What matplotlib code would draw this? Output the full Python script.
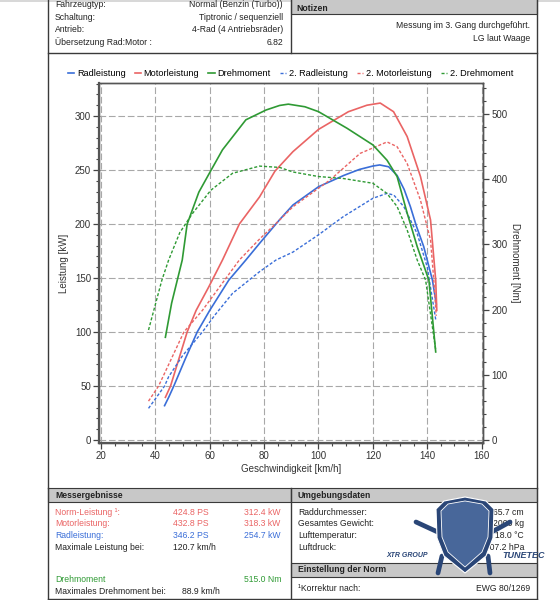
import matplotlib
matplotlib.use("Agg")
import matplotlib.pyplot as plt
from matplotlib.patches import Rectangle, Polygon
from matplotlib.lines import Line2D
from matplotlib.ticker import MultipleLocator

plt.rcParams['font.family'] = ['Liberation Sans', 'DejaVu Sans']

# ---------------- data ----------------
rad_v = [43.4, 45.0, 46.8, 51.0, 55.4, 60.0, 67.0, 73.3, 78.3, 85.7, 90.6, 100.0, 109.3, 115.0,
         120.0, 122.5, 125.8, 128.9, 131.5, 133.8, 136.0, 138.7, 141.9, 143.3]
rad_kw = [31.8, 40.0, 50.0, 75.0, 100.0, 120.0, 148.0, 166.7, 182.0, 204.0, 217.6, 234.5, 245.0, 250.5,
          253.7, 254.7, 253.0, 245.0, 232.0, 216.0, 198.0, 179.0, 148.0, 126.0]

mot_v = [43.7, 45.6, 51.7, 55.0, 59.7, 64.7, 70.9, 78.3, 84.0, 90.6, 100.0, 111.0, 117.8, 122.7,
         127.6, 132.6, 137.5, 141.2, 143.1, 143.5]
mot_kw = [39.5, 50.0, 100.0, 120.0, 142.0, 166.7, 200.0, 225.0, 249.0, 267.0, 287.6, 304.0, 310.0, 312.0,
          304.0, 281.0, 244.0, 203.7, 148.0, 120.0]

dreh_v = [43.7, 46.0, 49.9, 51.7, 56.0, 60.4, 64.7, 73.3, 80.7, 85.7, 88.9, 95.0, 100.0, 110.5,
          120.0, 125.2, 128.9, 132.6, 136.3, 140.6, 143.1]
dreh_nm = [157.5, 210.0, 276.0, 331.0, 380.0, 413.0, 445.0, 491.0, 506.0, 513.0, 515.0, 511.0, 503.5, 478.0,
           452.5, 429.0, 404.0, 348.0, 296.5, 245.0, 135.0]

rad2_v = [37.5, 43.4, 44.9, 50.0, 57.3, 62.0, 68.4, 78.3, 84.4, 90.6, 100.0, 109.1, 120.0, 125.2,
          127.7, 131.4, 136.3, 140.0, 143.2]
rad2_kw = [29.3, 50.0, 58.6, 78.0, 100.0, 116.0, 135.8, 155.8, 166.7, 174.0, 190.0, 206.8, 223.8, 228.4,
           226.8, 216.0, 191.0, 160.0, 110.0]

mot2_v = [37.5, 41.2, 44.0, 50.5, 57.3, 64.0, 70.9, 78.3, 85.7, 90.6, 104.2, 115.3, 125.2, 128.9,
          132.6, 137.5, 141.2, 142.4, 143.3]
mot2_kw = [36.0, 50.0, 65.0, 100.0, 120.0, 143.0, 166.7, 186.0, 203.7, 216.0, 240.7, 265.4, 276.0, 271.6,
           256.0, 222.0, 185.0, 148.0, 115.0]

dreh2_v = [37.5, 42.4, 44.9, 49.0, 53.6, 60.4, 68.4, 78.3, 85.7, 90.6, 100.0, 109.1, 120.0, 125.2,
           128.9, 132.6, 136.3, 139.4, 143.1]
dreh2_nm = [168.7, 245.0, 276.0, 318.0, 347.0, 383.0, 409.0, 420.0, 418.0, 411.0, 404.0, 401.0, 393.7, 378.0,
            358.0, 322.0, 276.0, 245.0, 138.0]

series_names = ["Radleistung", "Motorleistung", "Drehmoment",
                "2. Radleistung", "2. Motorleistung", "2. Drehmoment"]

header_labels = ["Fahrzeugtyp:", "Schaltung:", "Antrieb:", "Übersetzung Rad:Motor :"]
header_values = ["Normal (Benzin (Turbo))", "Tiptronic / sequenziell", "4-Rad (4 Antriebsräder)", "6.82"]
notes = ["Messung im 3. Gang durchgeführt.", "LG laut Waage"]

res_labels = ["Norm-Leistung ¹:", "Motorleistung:", "Radleistung:", "Maximale Leistung bei:"]
res_ps = ["424.8 PS", "432.8 PS", "346.2 PS", "120.7 km/h"]
res_kw = ["312.4 kW", "318.3 kW", "254.7 kW", ""]
env_labels = ["Raddurchmesser:", "Gesamtes Gewicht:", "Lufttemperatur:", "Luftdruck:"]
env_values = ["65.7 cm", "2000 kg", "18.0 °C", "1007.2 hPa"]

# ---------------- style ----------------
W, H = 560, 600
BLUE = '#3a6ed8'
RED = '#ea6464'
GREEN = '#2f9a34'
GRAY_HDR = '#c8c8c8'
FRAME = '#3a3a3a'
FS = 6.2

fig = plt.figure(figsize=(W / 100, H / 100), dpi=100)
fig.patch.set_facecolor('white')


def fx(x):
    return x / W


def fy(y):
    return 1 - y / H


def hline(x0, x1, y, lw=1.0, c=FRAME):
    fig.add_artist(Line2D([fx(x0), fx(x1)], [fy(y), fy(y)], color=c, lw=lw))


def vline(x, y0, y1, lw=1.0, c=FRAME):
    fig.add_artist(Line2D([fx(x), fx(x)], [fy(y0), fy(y1)], color=c, lw=lw))


def grayband(x0, x1, y0, y1):
    fig.add_artist(Rectangle((fx(x0), fy(y1)), fx(x1) - fx(x0), fy(y0) - fy(y1),
                             facecolor=GRAY_HDR, edgecolor=FRAME, lw=0.8))


def txt(x, y, s, ha='left', color='#222222', weight='normal', size=FS, **kw):
    fig.text(fx(x), fy(y), s, ha=ha, va='center', color=color, fontsize=size,
             fontweight=weight, **kw)


# top gray shadow
fig.add_artist(Rectangle((0, fy(2)), 1, 2 / H, facecolor='#d8d8d8', edgecolor='none'))

# ---------------- header ----------------
L, M, R = 47.5, 290.5, 536.5
grayband(M, R, -2, 14)
txt(296.5, 8.5, "Notizen", weight='bold')
rows_y = [4.5, 17.5, 30.0, 42.5]
for lab, val, y in zip(header_labels, header_values, rows_y):
    txt(55, y, lab)
    txt(283, y, val, ha='right')
txt(530, 25.5, notes[0], ha='right')
txt(530, 38.5, notes[1], ha='right')
vline(L, 0, 488)
vline(M, 0, 53)
vline(R, 0, 488)
hline(L, R, 53)

# ---------------- chart ----------------
ax_l, ax_r, ax_t, ax_b = 99.3, 483.3, 83.3, 442.7
ax = fig.add_axes([fx(ax_l), fy(ax_b), fx(ax_r) - fx(ax_l), fy(ax_t) - fy(ax_b)])
ax2 = ax.twinx()

dash = (0, (2.2, 1.4))
lines = []
lines += ax.plot(rad_v, rad_kw, color=BLUE, lw=1.2)
lines += ax.plot(mot_v, mot_kw, color=RED, lw=1.2)
lines += ax2.plot(dreh_v, dreh_nm, color=GREEN, lw=1.2)
lines += ax.plot(rad2_v, rad2_kw, color=BLUE, lw=1.0, linestyle=dash)
lines += ax.plot(mot2_v, mot2_kw, color=RED, lw=1.0, linestyle=dash)
lines += ax2.plot(dreh2_v, dreh2_nm, color=GREEN, lw=1.0, linestyle=dash)

ax.set_xlim(19.4, 160.6)
ax.set_ylim(-2.5, 330.3)
ax2.set_ylim(-2.5 * 1.656, 330.3 * 1.656)

ax.xaxis.set_major_locator(MultipleLocator(20))
ax.xaxis.set_minor_locator(MultipleLocator(5))
ax.yaxis.set_major_locator(MultipleLocator(50))
ax.yaxis.set_minor_locator(MultipleLocator(10))
ax2.yaxis.set_major_locator(MultipleLocator(100))
ax2.yaxis.set_minor_locator(MultipleLocator(20))

ax.grid(True, which='major', color='#a8a8a8', lw=0.8, linestyle=(0, (6, 2.5)))
for a in (ax, ax2):
    for sp in a.spines.values():
        sp.set_color('#555555')
        sp.set_linewidth(1.0)
ax.spines['left'].set_linewidth(1.6)
ax.spines['bottom'].set_linewidth(1.6)

ax.tick_params(axis='both', which='major', direction='out', length=4, width=0.9,
               labelsize=FS + 0.8, colors='#444444', labelcolor='#333333', pad=2)
ax.tick_params(axis='both', which='minor', direction='out', length=2.5, width=0.8, colors='#444444')
ax2.tick_params(axis='y', which='major', direction='out', length=4, width=0.9,
                labelsize=FS + 0.8, colors='#444444', labelcolor='#333333', pad=2)
ax2.tick_params(axis='y', which='minor', direction='out', length=2.5, width=0.8, colors='#444444')

ax.set_xlabel("Geschwindigkeit [km/h]", fontsize=FS + 0.8, color='#333333', labelpad=2)
ax.set_ylabel("Leistung [kW]", fontsize=FS + 0.8, color='#333333', labelpad=4)
ax2.set_ylabel("Drehmoment [Nm]", fontsize=FS + 0.8, color='#333333', rotation=270, labelpad=9)

fig.legend(lines, series_names, loc='center', bbox_to_anchor=(fx(290.5), fy(73.5)), ncol=6,
           frameon=False, fontsize=FS + 0.35, handlelength=0.7, handletextpad=0.3,
           columnspacing=1.0, borderaxespad=0)

# ---------------- bottom tables ----------------
grayband(L, M, 488, 502)
grayband(M, R, 488, 502)
txt(55, 495.5, "Messergebnisse", weight='bold')
txt(298, 495.5, "Umgebungsdaten", weight='bold')
res_colors = [RED, RED, BLUE, '#222222']
res_y = [512.3, 523.7, 535.0, 547.0]
for lab, ps, kw, c, y in zip(res_labels, res_ps, res_kw, res_colors, res_y):
    txt(55, y, lab, color=c)
    txt(172.7, y, ps, color=c)
    if kw:
        txt(244, y, kw, color=c)
txt(55, 580, "Drehmoment", color=GREEN)
txt(244, 580, "515.0 Nm", color=GREEN)
txt(55, 592, "Maximales Drehmoment bei:")
txt(181.7, 592, "88.9 km/h")

for lab, val, y in zip(env_labels, env_values, res_y):
    txt(298, y, lab)
    txt(524, y, val, ha='right')
grayband(M, R, 563, 577)
txt(298, 570, "Einstellung der Norm", weight='bold')
txt(298, 588.7, "¹Korrektur nach:")
txt(530, 588.7, "EWG 80/1269", ha='right')
vline(L, 488, 599)
vline(M, 488, 599)
vline(R, 488, 599)
hline(L, R, 598.5)

# ---------------- logo (decorative) ----------------
LOGO = '#2a4677'
for (x0, y0, x1, y1) in [(416, 522, 442, 534), (510, 522, 488, 534), (442, 556, 438, 573), (488, 556, 490, 573)]:
    fig.add_artist(Line2D([fx(x0), fx(x1)], [fy(y0), fy(y1)], color=LOGO, lw=3.4, zorder=19,
                          solid_capstyle='round'))
shield = [(436, 509), (444, 501), (465, 497), (486, 501), (494, 509), (493, 538), (486, 556),
          (465, 573), (444, 556), (437, 538)]
fig.add_artist(Polygon([(fx(x), fy(y)) for x, y in shield], closed=True, facecolor=LOGO,
                       edgecolor='white', lw=0.8, zorder=20))
inner = [(441, 511), (448, 504), (465, 501), (482, 504), (489, 511), (488, 537), (482, 552),
         (465, 567), (448, 552), (442, 537)]
fig.add_artist(Polygon([(fx(x), fy(y)) for x, y in inner], closed=True, facecolor='#48679a',
                       edgecolor='white', lw=0.6, zorder=21))
fig.text(fx(407), fy(555.5), "XTR GROUP", color=LOGO, fontsize=5.0, style='italic',
         fontweight='bold', ha='center', va='center', zorder=22)
fig.text(fx(524), fy(556), "TUNETEC", color=LOGO, fontsize=6.5, style='italic',
         fontweight='bold', ha='center', va='center', zorder=22)

fig.savefig("out.png", dpi=100, facecolor='white')
